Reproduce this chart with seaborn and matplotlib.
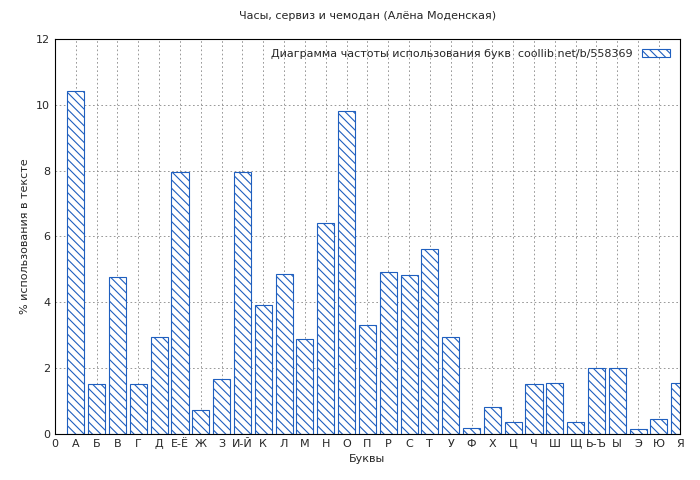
import matplotlib
matplotlib.use("Agg")
import matplotlib.pyplot as plt
import seaborn as sns
import numpy as np
import pandas as pd

letters = ["А","Б","В","Г","Д","Е-Ё","Ж","З","И-Й","К","Л","М","Н","О","П","Р","С","Т","У","Ф","Х","Ц","Ч","Ш","Щ","Ь-Ъ","Ы","Э","Ю","Я"]
values = [10.42,1.52,4.77,1.52,2.95,7.97,0.73,1.67,7.97,3.92,4.86,2.88,6.40,9.82,3.30,4.92,4.83,5.62,2.95,0.18,0.82,0.37,1.52,1.55,0.37,2.00,2.00,0.15,0.45,1.55]
tick_labels = ["0"] + letters

sns.set_theme(style="white")
plt.rcParams['font.family'] = ['DejaVu Sans']
plt.rcParams['hatch.linewidth'] = 0.8

fig = plt.figure(figsize=(7, 4.8), dpi=100)
ax = fig.add_axes([0.0786, 0.096, 0.8925, 0.823])
df = pd.DataFrame({"pos": np.arange(1, len(letters) + 1), "val": values})
sns.barplot(data=df, x="pos", y="val", native_scale=True, width=0.82, ax=ax,
            facecolor="white", edgecolor="#1f5fbf", linewidth=0.8, hatch="\\\\\\\\",
            label="Диаграмма частоты использования букв  coollib.net/b/558369")
ax.set_xlim(0, 30)
ax.set_ylim(0, 12)
ax.set_xticks(range(0, 31))
ax.set_xticklabels(tick_labels, fontsize=8)
ax.set_yticks(range(0, 13, 2))
ax.tick_params(axis="y", labelsize=8)
ax.tick_params(direction="in", length=3)
ax.grid(True, linestyle=(0, (2, 3)), color="#888888", linewidth=0.6)
ax.set_axisbelow(True)
for s in ax.spines.values():
    s.set_color("black"); s.set_linewidth(0.8)
ax.set_xlabel("Буквы", fontsize=8)
ax.set_ylabel("% использования в тексте", fontsize=8)
ax.set_title("Часы, сервиз и чемодан (Алёна Моденская)", fontsize=8, pad=14)
ax.legend(loc="upper right", markerfirst=False, frameon=False, fontsize=8,
          handlelength=2.5, handleheight=0.8)
fig.savefig("out.png", dpi=100, facecolor="white")
